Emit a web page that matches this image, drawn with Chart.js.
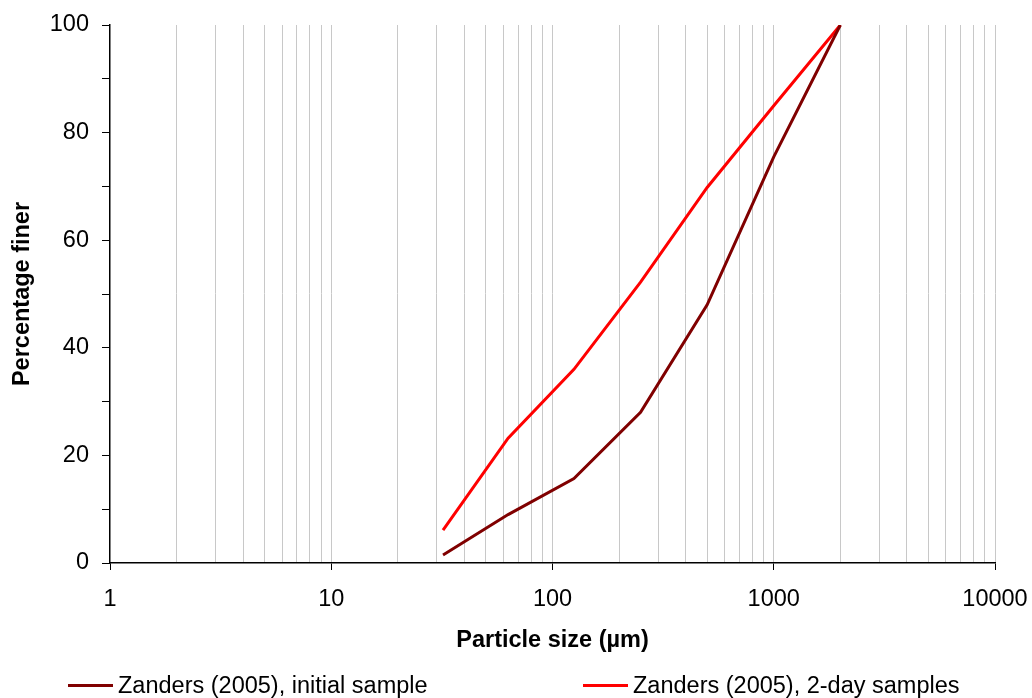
<!DOCTYPE html>
<html>
<head>
<meta charset="utf-8">
<script src="https://cdn.jsdelivr.net/npm/chart.js@4"></script>
<style>
  html, body { margin: 0; padding: 0; background: #fff; }
  #wrap { position: relative; width: 1032px; height: 698px; }
  #legend {
    position: absolute; left: 0; top: 671px; width: 1032px; height: 28px;
    font-family: "Liberation Sans", Arial, sans-serif; font-size: 23.5px; color: #000;
  }
  .item { position: absolute; top: 0; white-space: nowrap; line-height: 28px; }
  .swatch { display: inline-block; width: 45px; height: 3px; vertical-align: middle; margin-right: 5px; position: relative; top: -1px; }
</style>
</head>
<body>
<div id="wrap">
  <canvas id="chart" width="1032" height="698"></canvas>
  <div id="legend"></div>
</div>
<script>
const sizes = [32, 63, 125, 250, 500, 1000, 2000];
const initialSample = [1.5, 9, 15.7, 28, 48, 75.5, 100];
const twoDaySamples = [6.1, 23.2, 36, 52.2, 69.8, 85, 100];

const seriesNames = ["Zanders (2005), initial sample", "Zanders (2005), 2-day samples"];
const seriesColors = ["#800000", "#ff0000"];

const decades = [1, 10, 100, 1000, 10000];
const minorSteps = [2, 3, 4, 5, 6, 7, 8, 9];

const fontFamily = '"Liberation Sans", Arial, sans-serif';
const fontSize = 23.5;

// every 1..9 multiple inside each decade, gets a grid line
const xTickValues = [];
decades.forEach((d, i) => {
  xTickValues.push(d);
  if (i < decades.length - 1) minorSteps.forEach((m) => xTickValues.push(m * d));
});

const isDecade = (v) => decades.includes(v);

const ctx = document.getElementById("chart").getContext("2d");
new Chart(ctx, {
  type: "line",
  data: {
    datasets: [
      {
        label: seriesNames[0],
        data: sizes.map((s, i) => ({ x: s, y: initialSample[i] })),
        borderColor: seriesColors[0],
        borderWidth: 3,
        pointRadius: 0,
        tension: 0,
      },
      {
        label: seriesNames[1],
        data: sizes.map((s, i) => ({ x: s, y: twoDaySamples[i] })),
        borderColor: seriesColors[1],
        borderWidth: 3,
        pointRadius: 0,
        tension: 0,
      },
    ],
  },
  options: {
    responsive: false,
    animation: false,
    layout: { padding: { left: 0, right: 37, top: 25, bottom: 0 } },
    plugins: {
      legend: { display: false },
      tooltip: { enabled: false },
    },
    scales: {
      x: {
        type: "logarithmic",
        min: 1,
        max: 10000,
        afterBuildTicks: (scale) => {
          scale.ticks = xTickValues.map((v) => ({ value: v }));
        },
        afterFit: (scale) => {
          scale.height = 135;
          scale.paddingLeft = 0;
          scale.paddingRight = 0;
        },
        border: { color: "#000", width: 1.5 },
        grid: {
          color: (c) => (c.tick && c.tick.value === 1 ? "rgba(0,0,0,0)" : "#c8c8c8"),
          tickColor: (c) => (c.tick && isDecade(c.tick.value) ? "#000" : "rgba(0,0,0,0)"),
          tickLength: 7,
          lineWidth: 1,
        },
        ticks: {
          autoSkip: false,
          maxRotation: 0,
          padding: 15,
          color: "#000",
          font: { family: fontFamily, size: fontSize },
          callback: (v) => (isDecade(v) ? String(v) : ""),
        },
        title: {
          display: true,
          text: "Particle size (\u00b5m)",
          color: "#000",
          font: { family: fontFamily, size: fontSize, weight: "bold" },
          padding: { top: 0, bottom: 43 },
        },
      },
      y: {
        min: 0,
        max: 100,
        afterFit: (scale) => {
          scale.width = 110;
          scale.paddingTop = 0;
          scale.paddingBottom = 0;
        },
        border: { color: "#000", width: 1.5 },
        grid: {
          drawOnChartArea: false,
          tickLength: 8,
          tickColor: "#000",
        },
        ticks: {
          stepSize: 10,
          padding: 13,
          color: "#000",
          font: { family: fontFamily, size: fontSize },
          callback: (v) => (v % 20 === 0 ? String(v) : ""),
        },
        title: {
          display: true,
          text: "Percentage finer",
          color: "#000",
          font: { family: fontFamily, size: fontSize, weight: "bold" },
          padding: { top: 8, bottom: 0 },
        },
      },
    },
  },
});

// legend row under the axis title
const legendDiv = document.getElementById("legend");
const legendLeft = [68, 583];
legendDiv.innerHTML = seriesNames
  .map(
    (name, i) => `
    <div class="item" style="left:${legendLeft[i]}px">
      <span class="swatch" style="background:${seriesColors[i]}"></span>${name}
    </div>`,
  )
  .join("");
</script>
</body>
</html>
